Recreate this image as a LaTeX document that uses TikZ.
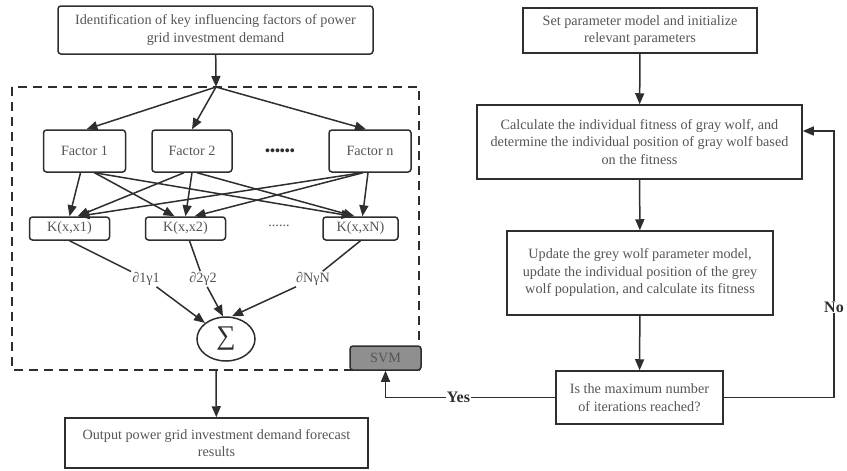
\documentclass[tikz,border=0pt]{standalone}
\usepackage{fontspec}
\setmainfont{Liberation Serif}
\usetikzlibrary{arrows.meta,shapes.geometric}
\definecolor{diagramLine}{HTML}{2E2E2E}
\definecolor{diagramText}{HTML}{555555}
\definecolor{diagramSvmBg}{HTML}{8F8F8F}

\begin{document}
\begin{tikzpicture}[
    x=1pt,y=-1pt,>=Triangle,
    every node/.style={font=\fontsize{14.2}{17.5}\selectfont,align=center,text=diagramText,inner sep=0pt},
    block/.style={draw=diagramLine,line width=1.5pt,minimum height=45pt},
    rblock/.style={block,rounded corners=3pt},
    factor/.style={rblock,minimum width=82pt,minimum height=42pt},
    kernel/.style={rblock,minimum width=80pt,minimum height=23pt},
    weight/.style={fill=white,inner sep=1pt},
    answer/.style={fill=white,inner sep=1pt,text=diagramLine,font=\fontsize{16}{16}\selectfont\bfseries},
    flow/.style={-{Triangle[length=11pt,width=9pt]},draw=diagramLine,line width=1.5pt},
    link/.style={draw=diagramLine,line width=1.5pt}
]
\useasboundingbox (0,0) rectangle (847,471);

% left: SVM forecast
\node[rblock,minimum width=315pt,minimum height=48pt] (ident) at (215.5,30) {Identification of key influencing factors of power\\grid investment demand};
\draw[dashed,dash pattern=on 9pt off 6pt,draw=diagramLine,line width=1.5pt] (12,87) rectangle (419,370);
\coordinate (split) at (216,87);
\coordinate (boxout) at (216,370);
\node[factor] (f1) at (84.5,151) {Factor 1};
\node[factor,minimum width=80pt] (f2) at (192,151) {Factor 2};
\node[factor] (fn) at (370,151) {Factor n};
\node[text=diagramLine] (fdots) at (280,152) {\textbf{••••••}};
\node[kernel] (k1) at (69.5,228.5) {K(x,x1)};
\node[kernel] (k2) at (185.5,228.5) {K(x,x2)};
\node[kernel,minimum width=75pt] (kN) at (360.5,228.5) {K(x,xN)};
\node (kdots) at (279,226) {......};
\node[weight] (w1) at (146,279) {∂1γ1};
\node[weight] (w2) at (203,279) {∂2γ2};
\node[weight] (wN) at (313,279) {∂NγN};
\node[ellipse,draw=diagramLine,line width=1.5pt,minimum width=58pt,minimum height=44pt,text=diagramLine] (sum) at (226,339) {\fontsize{27}{27}\selectfont ∑};
\node[rblock,fill=diagramSvmBg,minimum width=71pt,minimum height=24pt] (svm) at (385.5,358) {SVM};
\node[block,minimum width=303pt,minimum height=50pt] (output) at (216.5,443) {Output power grid investment demand forecast\\results};

\draw[flow] (ident) -- (split);
\draw[flow] (split) -- ([xshift=2pt]f1.north);
\draw[flow] (split) -- (f2.north);
\draw[flow] (split) -- ([xshift=-4pt]fn.north);
\draw[flow] ([xshift=-4pt]f1.south) -- (k1.north);
\draw[flow] ([xshift=10pt]f1.south) -- ([xshift=-11pt]k2.north);
\draw[flow] ([xshift=10pt]f1.south) -- ([xshift=-8pt]kN.north);
\draw[flow] ([xshift=-8pt]f2.south) -- ([xshift=8pt]k1.north);
\draw[flow] (f2.south) -- (k2.north);
\draw[flow] ([xshift=5pt]f2.south) -- ([xshift=-6pt]kN.north);
\draw[flow] ([xshift=-8pt]fn.south) -- ([xshift=9pt]k1.north);
\draw[flow] ([xshift=-7pt]fn.south) -- ([xshift=9pt]k2.north);
\draw[flow] ([xshift=-2pt]fn.south) -- ([xshift=2pt]kN.north);
\draw[link] (k1.south) -- (w1);
\draw[link] ([xshift=4pt]k2.south) -- (w2);
\draw[link] (kN.south) -- (wN);
\draw[flow] (w1) -- (sum.north west);
\draw[flow] (w2) -- ([xshift=-3pt]sum.north);
\draw[flow] (wN) -- ([xshift=6pt]sum.north);
\draw[flow] (boxout) -- (output);

% right: grey wolf optimisation
\node[block,minimum width=234pt] (setp) at (640,30.5) {Set parameter model and initialize\\relevant parameters};
\node[block,minimum width=325pt,minimum height=74pt] (calc) at (639.5,142) {Calculate the individual fitness of gray wolf, and\\determine the individual position of gray wolf based\\on the fitness};
\node[block,minimum width=266pt,minimum height=84pt] (upd) at (640,273) {Update the grey wolf parameter model,\\update the individual position of the grey\\wolf population, and calculate its fitness};
\node[block,minimum width=167pt,minimum height=53pt] (decide) at (639.5,397.5) {Is the maximum number\\of iterations reached?};
\coordinate (loop) at (834,131);

\draw[flow] (setp) -- (calc);
\draw[flow] (calc) -- (upd);
\draw[flow] (upd) -- (decide);
\draw[flow] (decide.west) -- node[answer,pos=0.57]{Yes} (svm.south |- decide.west) -- (svm.south);
\draw[flow] (decide.east) -| node[answer,pos=0.67]{No} (loop) -- (calc.east |- loop);
\end{tikzpicture}
\end{document}
